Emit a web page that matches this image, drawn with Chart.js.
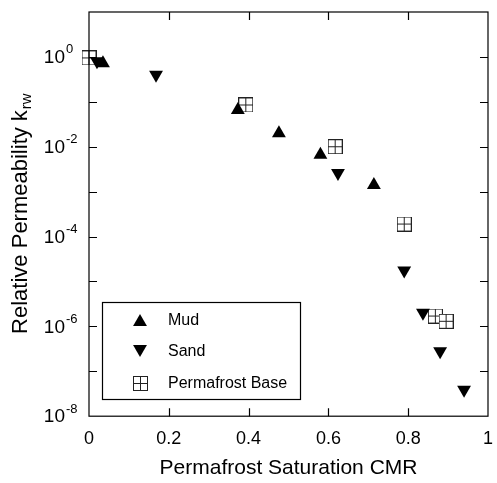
<!DOCTYPE html>
<html>
<head>
<meta charset="utf-8">
<script src="https://cdn.jsdelivr.net/npm/chart.js@4.4.1/dist/chart.umd.min.js"></script>
<style>
  body { margin: 0; background: #fff; }
  canvas { display: block; }
</style>
</head>
<body>
<canvas id="chart" width="497" height="483"></canvas>
<script>
// data
var xTicks = [0, 0.2, 0.4, 0.6, 0.8, 1];
var yTickExps = [0, -2, -4, -6, -8];

var mudX = [0.035, 0.373, 0.476, 0.58, 0.714];
var mudY = [0.72, 0.066, 0.02, 0.0066, 0.0014];

var sandX = [0.02, 0.168, 0.624, 0.79, 0.837, 0.88, 0.94];
var sandY = [0.8, 0.4, 0.0026, 1.75e-5, 2e-6, 2.8e-7, 3.9e-8];

var baseX = [0.0, 0.393, 0.617, 0.79, 0.868, 0.895];
var baseY = [0.95, 0.085, 0.01, 1.9e-4, 1.7e-6, 1.3e-6];

var FONT = "'Liberation Sans', Arial, Helvetica, sans-serif";

function toPoints(xs, ys) {
  var pts = [];
  for (var i = 0; i < xs.length; i++) pts.push({x: xs[i], y: ys[i]});
  return pts;
}

// square with a cross inside, for the permafrost base points
function makeCrossSquare(size) {
  var c = document.createElement('canvas');
  c.width = size; c.height = size;
  var g = c.getContext('2d');
  g.fillStyle = '#fff';
  g.fillRect(0, 0, size, size);
  g.strokeStyle = '#222';
  g.lineWidth = 1;
  g.strokeRect(0.5, 0.5, size - 1, size - 1);
  g.beginPath();
  g.moveTo(size / 2, 0); g.lineTo(size / 2, size);
  g.moveTo(0, size / 2); g.lineTo(size, size / 2);
  g.stroke();
  return c;
}
var crossSquare = makeCrossSquare(15);

function triangle(ctx, x, y, r, down) {
  var s = down ? -1 : 1;
  ctx.beginPath();
  ctx.moveTo(x, y - s * r);
  ctx.lineTo(x + r * 0.866, y + s * r / 2);
  ctx.lineTo(x - r * 0.866, y + s * r / 2);
  ctx.closePath();
  ctx.fill();
}

var decorations = {
  id: 'decorations',
  afterDraw: function(chart) {
    var ctx = chart.ctx;
    var a = chart.chartArea;
    var xs = chart.scales.x, ys = chart.scales.y;
    ctx.save();

    // frame
    ctx.strokeStyle = '#000';
    ctx.lineWidth = 1.2;
    ctx.strokeRect(a.left, a.top, a.right - a.left, a.bottom - a.top);

    // inward ticks
    ctx.beginPath();
    var tl = 8;
    for (var e = -7; e <= 0; e++) {
      var py = Math.round(ys.getPixelForValue(Math.pow(10, e))) + 0.5;
      ctx.moveTo(a.left, py); ctx.lineTo(a.left + tl, py);
      ctx.moveTo(a.right, py); ctx.lineTo(a.right - tl, py);
    }
    xTicks.slice(1, -1).forEach(function(v) {
      var px = Math.round(xs.getPixelForValue(v)) + 0.5;
      ctx.moveTo(px, a.bottom); ctx.lineTo(px, a.bottom - tl);
      ctx.moveTo(px, a.top); ctx.lineTo(px, a.top + tl);
    });
    ctx.stroke();

    // y tick labels 10^n
    ctx.fillStyle = '#000';
    yTickExps.forEach(function(ex) {
      var py = ys.getPixelForValue(Math.pow(10, ex));
      ctx.font = '19px ' + FONT;
      ctx.textAlign = 'right';
      ctx.textBaseline = 'middle';
      ctx.fillText('10', 65, py + 1);
      ctx.font = '13px ' + FONT;
      ctx.textAlign = 'left';
      ctx.fillText(String(ex), 66, py - 7);
    });

    // y axis title with subscript
    ctx.save();
    ctx.translate(21, (a.top + a.bottom) / 2);
    ctx.rotate(-Math.PI / 2);
    ctx.font = '22px ' + FONT;
    var main = 'Relative Permeability k';
    var w1 = ctx.measureText(main).width;
    ctx.font = '15px ' + FONT;
    var w2 = ctx.measureText('rw').width;
    var x0 = -(w1 + w2) / 2;
    ctx.textAlign = 'left';
    ctx.textBaseline = 'middle';
    ctx.font = '22px ' + FONT;
    ctx.fillText(main, x0, 0);
    ctx.font = '15px ' + FONT;
    ctx.fillText('rw', x0 + w1 + 1, 6);
    ctx.restore();

    // legend box
    var lx = 102, ly = 302, lw = 198, lh = 97;
    ctx.fillStyle = '#fff';
    ctx.fillRect(lx, ly, lw, lh);
    ctx.strokeStyle = '#000';
    ctx.lineWidth = 1.2;
    ctx.strokeRect(lx + 0.5, ly + 0.5, lw, lh);
    var rows = chart.data.datasets;
    var rowY = [320, 351, 383];
    ctx.fillStyle = '#000';
    triangle(ctx, 140, rowY[0] + 2, 8, false);
    triangle(ctx, 140, rowY[1] - 2, 8, true);
    ctx.drawImage(crossSquare, 133, rowY[2] - 7);
    ctx.font = '16px ' + FONT;
    ctx.textAlign = 'left';
    ctx.textBaseline = 'middle';
    for (var i = 0; i < rows.length; i++) {
      ctx.fillText(rows[i].label, 168, rowY[i] + 1);
    }
    ctx.restore();
  }
};

var chart = new Chart(document.getElementById('chart'), {
  type: 'scatter',
  data: {
    datasets: [
      {
        label: 'Mud',
        data: toPoints(mudX, mudY),
        pointStyle: 'triangle',
        pointRadius: 8,
        backgroundColor: '#000',
        borderColor: '#000',
        borderWidth: 0,
        clip: false
      },
      {
        label: 'Sand',
        data: toPoints(sandX, sandY),
        pointStyle: 'triangle',
        rotation: 180,
        pointRadius: 8,
        backgroundColor: '#000',
        borderColor: '#000',
        borderWidth: 0,
        clip: false
      },
      {
        label: 'Permafrost Base',
        data: toPoints(baseX, baseY),
        pointStyle: crossSquare,
        clip: false
      }
    ]
  },
  options: {
    responsive: false,
    animation: false,
    events: [],
    layout: { padding: { left: 89, right: 1, top: 12, bottom: 0 } },
    plugins: {
      legend: { display: false },
      tooltip: { enabled: false }
    },
    scales: {
      x: {
        type: 'linear',
        min: 0,
        max: 1,
        // invisible tick marks keep the labels away from the axis
        grid: { display: true, drawOnChartArea: false, drawTicks: true, tickLength: 8, color: 'rgba(0,0,0,0)' },
        border: { display: false },
        afterBuildTicks: function(scale) {
          scale.ticks = xTicks.map(function(v) { return {value: v}; });
        },
        ticks: {
          padding: 4,
          color: '#000',
          font: { family: FONT, size: 18 },
          maxRotation: 0,
          callback: function(v) { return String(v); }
        },
        title: {
          display: true,
          text: 'Permafrost Saturation CMR',
          color: '#000',
          font: { family: FONT, size: 21 },
          padding: { top: 2, bottom: 2 }
        }
      },
      y: {
        type: 'logarithmic',
        min: 1e-8,
        max: 10,
        grid: { display: false, drawTicks: false },
        border: { display: false },
        ticks: { display: false }
      }
    }
  },
  plugins: [decorations]
});
</script>
</body>
</html>
